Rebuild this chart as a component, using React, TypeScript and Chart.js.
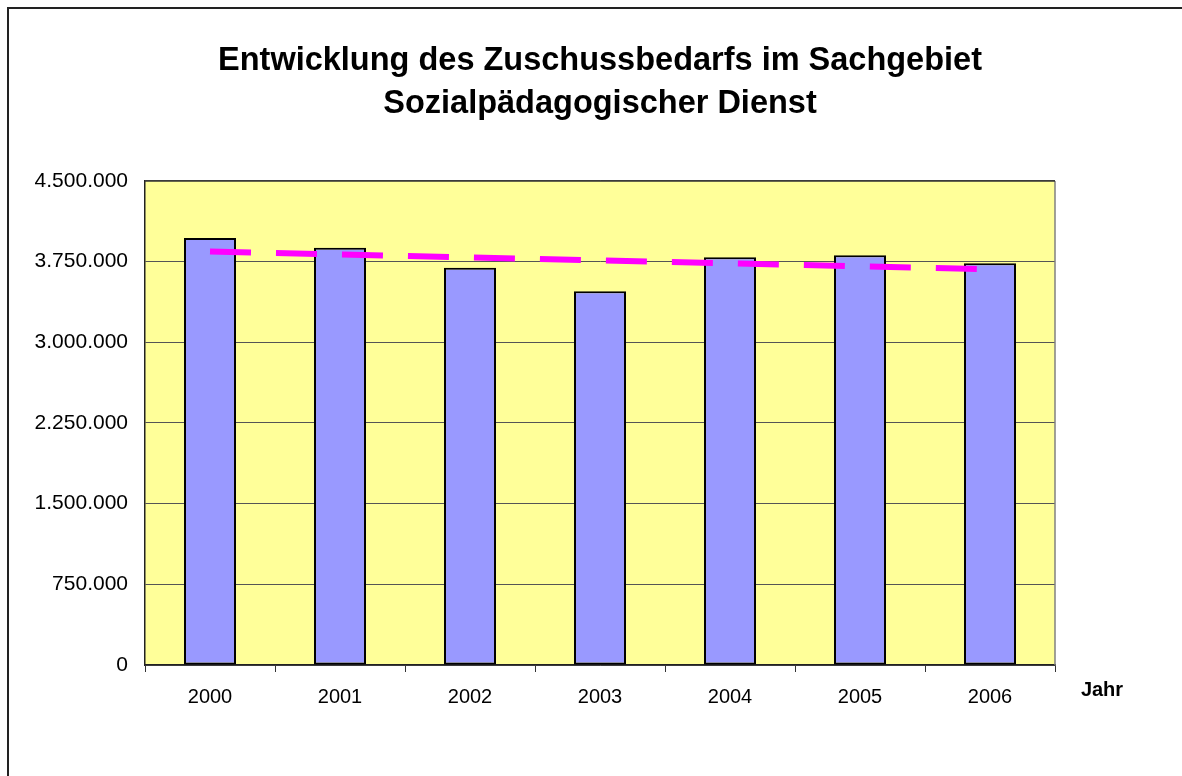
import React, { useEffect, useRef } from "react";
import { Chart, registerables } from "chart.js";

Chart.register(...registerables);

const years = ["2000", "2001", "2002", "2003", "2004", "2005", "2006"];
const zuschuss = [3970000, 3880000, 3694000, 3474000, 3790000, 3809000, 3735000];
const trend = [3845000, 3817000, 3790000, 3762000, 3735000, 3707000, 3680000];
const titleLines = [
  "Entwicklung des Zuschussbedarfs im Sachgebiet",
  "Sozialpädagogischer Dienst",
];
const xAxisTitle = "Jahr";
const yMin = 0;
const yMax = 4500000;
const yStep = 750000;

const FONT = "'Liberation Sans', Arial, Helvetica, sans-serif";

function formatDE(v: number): string {
  return String(Math.round(v)).replace(/\B(?=(\d{3})+(?!\d))/g, ".");
}

const W = 1173;
const H = 767;

export default function App() {
  const ref = useRef<HTMLCanvasElement | null>(null);

  useEffect(() => {
    if (!ref.current) return;
    const plotBg = {
      id: "plotBg",
      beforeDraw(chart: any) {
        const { ctx, chartArea } = chart;
        ctx.save();
        ctx.fillStyle = "#FFFF99";
        ctx.fillRect(chartArea.left, chartArea.top, chartArea.right - chartArea.left, chartArea.bottom - chartArea.top);
        ctx.restore();
      },
      afterDraw(chart: any) {
        const { ctx, chartArea } = chart;
        ctx.save();
        ctx.strokeStyle = "#808080";
        ctx.lineWidth = 1.5;
        ctx.beginPath();
        ctx.moveTo(chartArea.right, chartArea.top);
        ctx.lineTo(chartArea.right, chartArea.bottom);
        ctx.stroke();
        ctx.strokeStyle = "#333";
        ctx.beginPath();
        ctx.moveTo(chartArea.left, chartArea.top);
        ctx.lineTo(chartArea.right, chartArea.top);
        ctx.stroke();
        ctx.fillStyle = "#000";
        ctx.font = `bold 20px ${FONT}`;
        ctx.textAlign = "center";
        ctx.textBaseline = "middle";
        ctx.fillText(xAxisTitle, chartArea.right + 47, chartArea.bottom + 25);
        ctx.restore();
      },
    };

    const chart = new Chart(ref.current, {
      type: "bar",
      data: {
        labels: years,
        datasets: [
          {
            type: "line",
            label: "Trend",
            data: trend,
            borderColor: "#FF00FF",
            borderWidth: 6,
            borderDash: [41, 25],
            pointRadius: 0,
            fill: false,
            tension: 0,
            order: 0,
          } as any,
          {
            type: "bar",
            label: "Zuschussbedarf",
            data: zuschuss,
            backgroundColor: "#9999FF",
            borderColor: "#000000",
            borderWidth: 2,
            borderSkipped: false,
            categoryPercentage: 1,
            barPercentage: 0.4,
            order: 1,
          } as any,
        ],
      },
      options: {
        responsive: false,
        animation: false,
        layout: { padding: { left: 9, right: 0, top: 0, bottom: 0 } },
        plugins: {
          legend: { display: false },
          tooltip: { enabled: false },
          title: {
            display: true,
            text: titleLines,
            color: "#000",
            font: { family: FONT, size: 32.5, weight: "bold", lineHeight: 1.323 },
            padding: { top: 31, bottom: 55 },
          },
        },
        scales: {
          x: {
            grid: { drawOnChartArea: false, drawTicks: true, tickLength: 7, color: "#333", offset: true },
            border: { display: true, color: "#222", width: 1.5 },
            ticks: { color: "#000", font: { family: FONT, size: 20 }, padding: 13 },
            afterFit(scale: any) {
              scale.height = 111;
            },
          },
          y: {
            min: yMin,
            max: yMax,
            grid: { drawTicks: false, color: "#555", lineWidth: 1 },
            border: { display: true, color: "#222", width: 1.5 },
            ticks: {
              stepSize: yStep,
              color: "#000",
              font: { family: FONT, size: 21 },
              padding: 17,
              callback: (v: any) => formatDE(Number(v)),
            },
            afterFit(scale: any) {
              scale.width = 127;
            },
          },
          yRight: {
            position: "right",
            display: true,
            grid: { display: false, drawTicks: false },
            border: { display: false },
            ticks: { display: false },
            afterFit(scale: any) {
              scale.width = 127;
            },
          },
        },
      } as any,
      plugins: [plotBg],
    });
    return () => chart.destroy();
  }, []);

  return (
    <div
      style={{
        position: "absolute",
        left: 7,
        top: 7,
        width: 1175,
        height: 769,
        borderLeft: "2px solid #222",
        borderTop: "2px solid #222",
        overflow: "hidden",
        background: "#fff",
      }}
    >
      <canvas ref={ref} width={W} height={H} style={{ display: "block", width: W, height: H }} />
    </div>
  );
}
